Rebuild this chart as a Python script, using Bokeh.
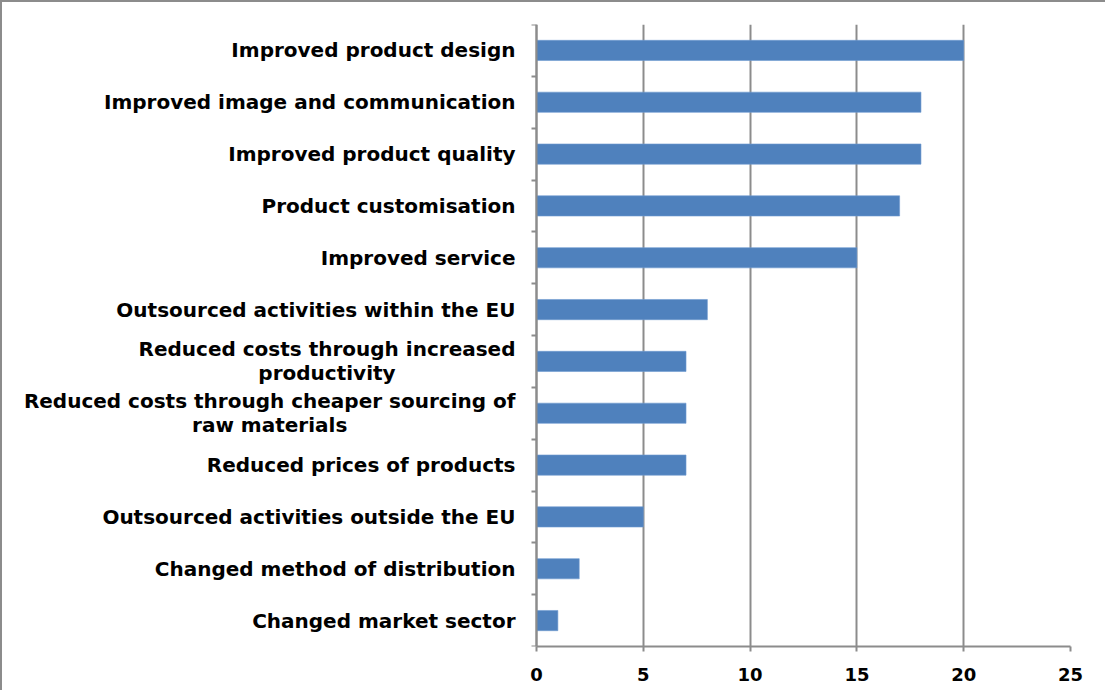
from bokeh.plotting import figure
from bokeh.models import ColumnDataSource, FixedTicker, Range1d
from bokeh.core.properties import value
from bokeh.embed import file_html
from bokeh.resources import INLINE

# ---- data (top to bottom as in the chart) ----
categories = [
    "Improved product design",
    "Improved image and communication",
    "Improved product quality",
    "Product customisation",
    "Improved service",
    "Outsourced activities within the EU",
    "Reduced costs through increased\nproductivity",
    "Reduced costs through cheaper sourcing of\nraw materials",
    "Reduced prices of products",
    "Outsourced activities outside the EU",
    "Changed method of distribution",
    "Changed market sector",
]
values = [20, 18, 18, 17, 15, 8, 7, 7, 7, 5, 2, 1]
x_ticks = [0, 5, 10, 15, 20, 25]

FONT = "DejaVu Sans"
LABEL_SIZE = 20
GAP = 21
BLUE = "#4f81bd"
GRID = "#8c8c8c"

# layout (pixels)
CANVAS_W, CANVAS_H = 1105, 690
BORDER_L, BORDER_R, BORDER_T, BORDER_B = 12, 37, 22, 46
LABEL_PX = 522          # room left of the value axis zero, inside the frame
DATA_PX = CANVAS_W - BORDER_L - BORDER_R - LABEL_PX
x_max = x_ticks[-1]
x_min = -x_max * LABEL_PX / DATA_PX

# approximate DejaVu Sans Bold advance widths (em)
W = {" ": .348, "a": .675, "b": .716, "c": .593, "d": .716, "e": .678, "f": .435,
     "g": .716, "h": .712, "i": .343, "j": .343, "k": .665, "l": .343, "m": 1.042,
     "n": .712, "o": .687, "p": .716, "q": .716, "r": .493, "s": .595, "t": .478,
     "u": .712, "v": .652, "w": .924, "x": .645, "y": .652, "z": .582,
     "R": .773, "I": .372, "P": .733, "O": .850, "E": .683, "U": .812, "C": .734}

def text_width(s):
    return sum(W.get(ch, .65) for ch in s) * LABEL_SIZE

n = len(categories)
ypos = [n - 1 - i for i in range(n)]

p = figure(width=CANVAS_W, height=CANVAS_H, output_backend="svg", toolbar_location=None,
           x_range=Range1d(x_min, x_max), y_range=Range1d(-0.5, n - 0.5),
           min_border_left=BORDER_L, min_border_right=BORDER_R,
           min_border_top=BORDER_T, min_border_bottom=BORDER_B)
p.styles = {"border-top": "2px solid #8c8c8c", "border-left": "2px solid #8c8c8c"}
p.outline_line_color = None
p.background_fill_color = "white"
p.border_fill_color = "white"

src = ColumnDataSource(dict(y=ypos, v=values, cat=categories))
p.hbar(y="y", right="v", left=0, height=0.39, source=src,
       fill_color=BLUE, line_color="#6f9bd0", line_width=0.6)

# x axis
p.xaxis.ticker = FixedTicker(ticks=x_ticks)
p.xaxis.bounds = (x_ticks[0], x_ticks[-1])
p.xaxis.axis_line_color = GRID
p.xaxis.axis_line_width = 2
p.xaxis.major_tick_line_color = GRID
p.xaxis.major_tick_line_width = 2
p.xaxis.major_tick_out = 5
p.xaxis.major_tick_in = 0
p.xaxis.minor_tick_line_color = None
p.xaxis.major_label_text_font = FONT
p.xaxis.major_label_text_font_style = "bold"
p.xaxis.major_label_text_font_size = "18px"
p.xaxis.major_label_text_color = "black"
p.xaxis.major_label_standoff = 16

# y axis at x = 0 (ticks at category boundaries, labels drawn separately)
p.yaxis.fixed_location = 0
p.yaxis.ticker = FixedTicker(ticks=[k - 0.5 for k in range(n + 1)])
p.yaxis.axis_line_color = GRID
p.yaxis.axis_line_width = 2
p.yaxis.major_tick_line_color = GRID
p.yaxis.major_tick_line_width = 2
p.yaxis.major_tick_out = 5
p.yaxis.major_tick_in = 0
p.yaxis.minor_tick_line_color = None
p.yaxis.major_label_text_color = None
p.yaxis.major_label_text_font_size = "1px"
p.yaxis.major_label_standoff = 0

p.xgrid.ticker = FixedTicker(ticks=x_ticks)
p.xgrid.grid_line_color = GRID
p.xgrid.grid_line_width = 2
p.ygrid.grid_line_color = None

# category labels
single = [(y, c) for y, c in zip(ypos, categories) if "\n" not in c]
multi = [(y, c) for y, c in zip(ypos, categories) if "\n" in c]

s1 = ColumnDataSource(dict(x=[0] * len(single), y=[a for a, _ in single],
                           t=[b for _, b in single]))
s2 = ColumnDataSource(dict(x=[0] * len(multi), y=[a for a, _ in multi],
                           t=[b for _, b in multi],
                           xo=[-GAP - max(text_width(l) for l in b.split("\n")) / 2
                               for _, b in multi]))
common = dict(text_font=value(FONT), text_font_style="bold",
              text_font_size=value(f"{LABEL_SIZE}px"), text_color="black",
              text_baseline="middle")
p.text(x="x", y="y", text="t", source=s1, x_offset=-GAP, text_align="right", **common)
p.text(x="x", y="y", text="t", source=s2, x_offset="xo", text_align="center",
       text_line_height=1.0, **common)

open("out.html", "w").write(file_html(p, INLINE))
